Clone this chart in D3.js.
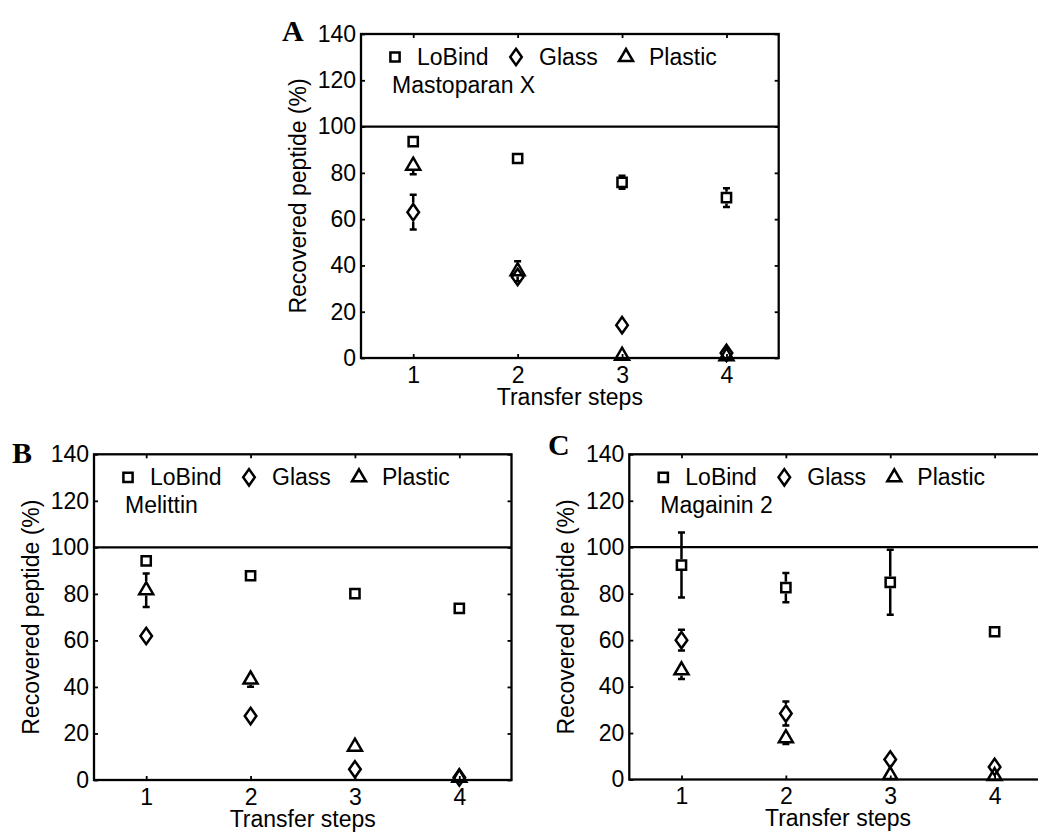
<!DOCTYPE html>
<html>
<head>
<meta charset="utf-8">
<script src="https://cdn.jsdelivr.net/npm/d3@7"></script>
<style>
  html, body { margin: 0; padding: 0; background: #fff; }
  svg { display: block; }
  text { font-family: "Liberation Sans", Arial, sans-serif; fill: #000; }
  .letter { font-family: "Liberation Serif", "Times New Roman", serif; font-weight: bold; }
</style>
</head>
<body>
<svg id="fig" width="1038" height="832"></svg>
<script>
// Transfer steps on the x axis and y-axis tick values
const steps = [1, 2, 3, 4];
const yTicks = [0, 20, 40, 60, 80, 100, 120, 140];
const tubeNames = ["LoBind", "Glass", "Plastic"];
const peptideNames = ["Mastoparan X", "Melittin", "Magainin 2"];
const panelLetters = ["A", "B", "C"];

// Recovered peptide (%) — mean and error per transfer step
const mpxLoBind     = [93.5, 86.2, 75.9, 69.3];
const mpxLoBindErr  = [0.8, 0.8, 2.8, 4.0];
const mpxGlass      = [63.0, 35.0, 14.2, 2.2];
const mpxGlassErr   = [7.5, 4.0, 0.3, 0.3];
const mpxPlastic    = [83.1, 37.5, 1.0, 0.8];
const mpxPlasticErr = [3.7, 4.3, 0.3, 0.3];

const melLoBind     = [94.2, 87.8, 80.1, 73.8];
const melLoBindErr  = [1.5, 0.8, 0.8, 2.0];
const melGlass      = [61.9, 27.5, 4.6, 1.1];
const melGlassErr   = [0.8, 3.0, 0.3, 0.3];
const melPlastic    = [81.6, 43.2, 14.3, 1.0];
const melPlasticErr = [7.2, 3.1, 0.3, 0.3];

const magLoBind     = [92.3, 82.6, 84.9, 63.6];
const magLoBindErr  = [14.0, 6.3, 14.0, 0.5];
const magGlass      = [60.0, 28.4, 8.6, 5.4];
const magGlassErr   = [4.5, 5.2, 0.3, 0.3];
const magPlastic    = [47.0, 17.8, 1.9, 1.5];
const magPlasticErr = [3.7, 2.5, 0.3, 0.3];

const svg = d3.select("#fig");
svg.append("rect").attr("width", 1038).attr("height", 832).attr("fill", "#fff");

const SW = 2.5;   // marker / error bar stroke
const FS = 23;    // text size

// Marker shapes (unfilled), each with its extent above / below centre
const markers = {
  square: {
    path: (cx, cy) => { const h = 4.6; return `M${cx-h},${cy-h}H${cx+h}V${cy+h}H${cx-h}Z`; },
    up: 4.6 + SW / 2, down: 4.6 + SW / 2
  },
  diamond: {
    path: (cx, cy) => { const w = 5.8, h = 8.2; return `M${cx},${cy-h}L${cx+w},${cy}L${cx},${cy+h}L${cx-w},${cy}Z`; },
    up: 8.2 + SW / 2, down: 8.2 + SW / 2
  },
  triangle: {
    path: (cx, cy) => { const w = 7, hUp = 8, hDn = 4; return `M${cx},${cy-hUp}L${cx+w},${cy+hDn}L${cx-w},${cy+hDn}Z`; },
    up: 8 + SW / 2, down: 4 + SW / 2
  }
};
const markerKeys = ["square", "diamond", "triangle"];

const panels = [
  { left: 361, right: 778.7, top: 34, bottom: 358, letterX: 282, letterY: 41,
    series: [[mpxLoBind, mpxLoBindErr], [mpxGlass, mpxGlassErr], [mpxPlastic, mpxPlasticErr]] },
  { left: 94, right: 511.5, top: 454.3, bottom: 780, letterX: 12, letterY: 463,
    series: [[melLoBind, melLoBindErr], [melGlass, melGlassErr], [melPlastic, melPlasticErr]] },
  { left: 629.3, right: 1046.8, top: 454.3, bottom: 779.5, letterX: 548, letterY: 455,
    series: [[magLoBind, magLoBindErr], [magGlass, magGlassErr], [magPlastic, magPlasticErr]] }
];

panels.forEach((p, i) => {
  const g = svg.append("g");
  const x = d3.scaleLinear().domain([0.5, 4.5]).range([p.left, p.right]);
  const y = d3.scaleLinear().domain([0, 140]).range([p.bottom, p.top]);

  // inward ticks on all four sides
  const axes = [
    [d3.axisBottom(x).tickValues(steps).tickFormat(d3.format("d")).tickPadding(8.5), p.bottom, "y"],
    [d3.axisTop(x).tickValues(steps).tickFormat(""), p.top, "y"],
    [d3.axisLeft(y).tickValues(yTicks).tickFormat(d3.format("d")).tickPadding(5), p.left, "x"],
    [d3.axisRight(y).tickValues(yTicks).tickFormat(""), p.right, "x"]
  ];
  axes.forEach(([ax, pos, dim]) => {
    const a = g.append("g")
      .attr("transform", dim === "y" ? `translate(0,${pos})` : `translate(${pos},0)`)
      .call(ax.tickSizeInner(-4).tickSizeOuter(0));
    a.select(".domain").remove();
    a.selectAll(".tick line").attr("stroke", "#000").attr("stroke-width", 1.8);
    a.selectAll(".tick text").attr("font-size", FS).attr("fill", "#000")
      .style("font-family", '"Liberation Sans", Arial, sans-serif');
  });

  // plot frame and 100 % reference line
  g.append("rect")
    .attr("x", p.left).attr("y", p.top)
    .attr("width", p.right - p.left).attr("height", p.bottom - p.top)
    .attr("fill", "none").attr("stroke", "#000").attr("stroke-width", 2.3);
  g.append("line")
    .attr("x1", p.left).attr("x2", p.right)
    .attr("y1", y(100)).attr("y2", y(100))
    .attr("stroke", "#000").attr("stroke-width", 2.3);

  // error bars (segments outside the marker) and markers
  p.series.forEach(([vals, errs], s) => {
    const m = markers[markerKeys[s]];
    vals.forEach((v, k) => {
      const cx = x(steps[k]), cy = y(v);
      const yTop = y(v + errs[k]), yBot = y(v - errs[k]);
      if (yTop < cy - m.up) {
        g.append("path").attr("d", `M${cx},${cy - m.up}V${yTop}M${cx-3.5},${yTop}H${cx+3.5}`)
          .attr("fill", "none").attr("stroke", "#000").attr("stroke-width", SW);
      }
      if (yBot > cy + m.down) {
        g.append("path").attr("d", `M${cx},${cy + m.down}V${yBot}M${cx-3.5},${yBot}H${cx+3.5}`)
          .attr("fill", "none").attr("stroke", "#000").attr("stroke-width", SW);
      }
      g.append("path").attr("d", m.path(cx, cy))
        .attr("fill", "none").attr("stroke", "#000").attr("stroke-width", SW)
        .attr("stroke-linejoin", "miter");
    });
  });

  // legend row and peptide name
  const legendMarkerX = [34, 155, 265];
  const legendTextX = [56, 178, 288];
  tubeNames.forEach((name, s) => {
    g.append("path").attr("d", markers[markerKeys[s]].path(p.left + legendMarkerX[s], p.top + 23))
      .attr("fill", "none").attr("stroke", "#000").attr("stroke-width", SW);
    g.append("text").attr("x", p.left + legendTextX[s]).attr("y", p.top + 31)
      .attr("font-size", FS).text(name);
  });
  g.append("text").attr("x", p.left + 31).attr("y", p.top + 59)
    .attr("font-size", FS).text(peptideNames[i]);

  // axis titles
  g.append("text")
    .attr("transform", `translate(${p.left - 55},${(p.top + p.bottom) / 2}) rotate(-90)`)
    .attr("text-anchor", "middle").attr("font-size", FS).text("Recovered peptide (%)");
  g.append("text")
    .attr("x", (p.left + p.right) / 2).attr("y", p.bottom + 46.5)
    .attr("text-anchor", "middle").attr("font-size", FS).text("Transfer steps");

  // panel letter
  g.append("text").attr("class", "letter")
    .attr("x", p.letterX).attr("y", p.letterY)
    .attr("font-size", 30).text(panelLetters[i]);
});
</script>
</body>
</html>
